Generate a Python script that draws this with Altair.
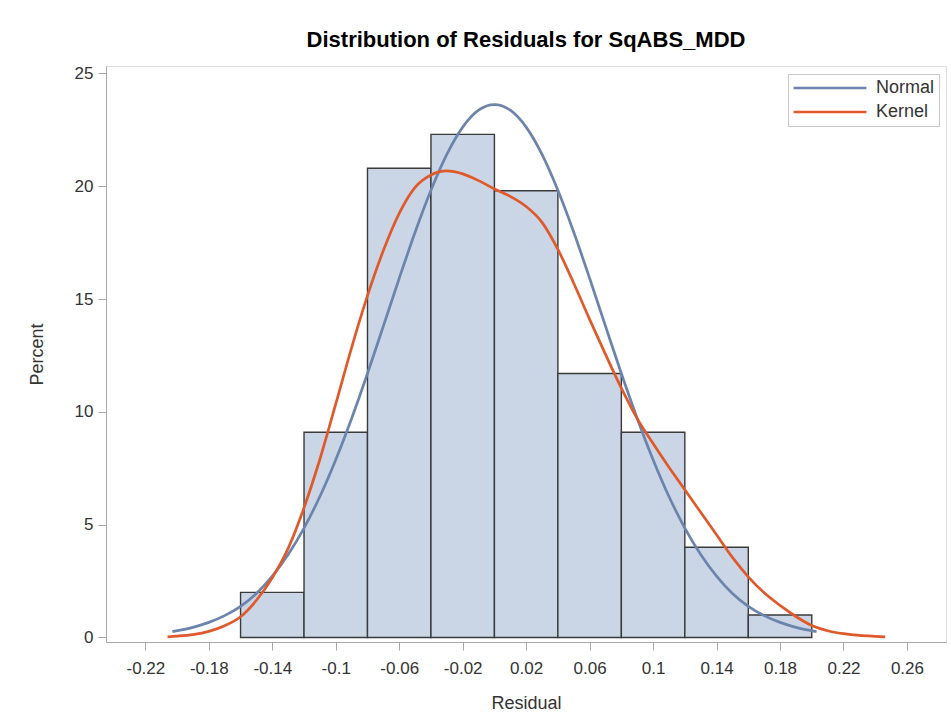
import altair as alt
import pandas as pd

# ---- data ----
bin_start = [-0.16, -0.12, -0.08, -0.04, 0.00, 0.04, 0.08, 0.12, 0.16]
bin_end = [-0.12, -0.08, -0.04, 0.00, 0.04, 0.08, 0.12, 0.16, 0.20]
percent = [2.0, 9.1, 20.8, 22.3, 19.8, 11.7, 9.1, 4.0, 1.0]

normal_x = [-0.203, -0.19, -0.18, -0.17, -0.16, -0.15, -0.14, -0.13, -0.12, -0.11,
            -0.10, -0.09, -0.08, -0.07, -0.06, -0.05, -0.04, -0.03, -0.02, -0.01,
            0.00, 0.01, 0.02, 0.03, 0.04, 0.05, 0.06, 0.07, 0.08, 0.09,
            0.10, 0.11, 0.12, 0.13, 0.14, 0.15, 0.16, 0.17, 0.18, 0.19, 0.203]
normal_y = [0.26, 0.45, 0.67, 0.97, 1.38, 1.95, 2.72, 3.68, 4.85, 6.25,
            7.88, 9.71, 11.70, 13.80, 15.92, 17.96, 19.82, 21.41, 22.62, 23.37,
            23.62, 23.37, 22.62, 21.41, 19.82, 17.96, 15.92, 13.80, 11.70, 9.71,
            7.88, 6.25, 4.85, 3.68, 2.72, 1.95, 1.38, 0.97, 0.67, 0.45, 0.26]

kernel_x = [-0.206, -0.20, -0.19, -0.18, -0.17, -0.16, -0.15, -0.14, -0.13, -0.12,
            -0.11, -0.10, -0.09, -0.08, -0.07, -0.06, -0.05, -0.04, -0.03, -0.02,
            -0.01, 0.00, 0.01, 0.02, 0.03, 0.04, 0.05, 0.06, 0.07, 0.08,
            0.09, 0.10, 0.11, 0.12, 0.13, 0.14, 0.15, 0.16, 0.17, 0.18,
            0.19, 0.20, 0.21, 0.22, 0.23, 0.24, 0.2463]
kernel_y = [0.03, 0.06, 0.13, 0.27, 0.52, 0.92, 1.65, 2.65, 3.95, 5.75,
            7.90, 10.35, 12.85, 15.15, 17.15, 18.80, 19.95, 20.50, 20.68, 20.55,
            20.25, 19.88, 19.55, 19.10, 18.40, 17.20, 15.70, 14.10, 12.55, 11.05,
            9.70, 8.60, 7.55, 6.55, 5.55, 4.55, 3.55, 2.69, 1.98, 1.42,
            0.93, 0.53, 0.30, 0.17, 0.09, 0.05, 0.03]

x_ticks = [-0.22, -0.18, -0.14, -0.1, -0.06, -0.02, 0.02, 0.06, 0.1, 0.14, 0.18, 0.22, 0.26]
y_ticks = [0, 5, 10, 15, 20, 25]
series_names = ["Normal", "Kernel"]
series_colors = ["#6B84AC", "#E0592A"]

bars = pd.DataFrame({"start": bin_start, "end": bin_end, "pct": percent,
                     "base": [0] * len(percent)})
curves = pd.DataFrame({
    "x": normal_x + kernel_x,
    "y": normal_y + kernel_y,
    "series": [series_names[0]] * len(normal_x) + [series_names[1]] * len(kernel_x),
    "order": list(range(len(normal_x))) + list(range(len(kernel_x))),
})

FONT = "Liberation Sans"
xscale = alt.Scale(domain=[-0.2448, 0.2846], nice=False, zero=False)
yscale = alt.Scale(domain=[-0.2, 25.33], nice=False, zero=False)

xaxis = alt.Axis(
    values=x_ticks,
    labelExpr="datum.value < 0 ? '-' + format(abs(datum.value), '~g') : format(datum.value, '~g')",
    grid=False, tickSize=8, labelPadding=10, labelFontSize=17, labelFont=FONT,
    labelColor="#333333", titleFontSize=18, titleFont=FONT, titleFontWeight="normal",
    titleColor="#333333", titleBaseline="alphabetic", titleY=66,
    domainColor="#A8A8A8", tickColor="#A8A8A8",
)
yaxis = alt.Axis(
    values=y_ticks, grid=False, tickSize=8, labelPadding=5, labelFontSize=17,
    labelFont=FONT, labelColor="#333333", titleFontSize=18, titleFont=FONT,
    titleFontWeight="normal", titleColor="#333333", titleBaseline="alphabetic",
    titleX=-64, titleY=288, titleAngle=-90, titleAlign="center",
    domainColor="#A8A8A8", tickColor="#A8A8A8",
)

hist = alt.Chart(bars).mark_rect(
    fill="#CAD5E6", stroke="#3A3A3A", strokeWidth=1.4
).encode(
    x=alt.X("start:Q", scale=xscale, axis=xaxis, title="Residual"),
    x2="end:Q",
    y=alt.Y("pct:Q", scale=yscale, axis=yaxis, title="Percent"),
    y2="base:Q",
)

lines = alt.Chart(curves).mark_line(strokeWidth=2.7, interpolate="monotone").encode(
    x=alt.X("x:Q", scale=xscale),
    y=alt.Y("y:Q", scale=yscale),
    color=alt.Color(
        "series:N",
        scale=alt.Scale(domain=series_names, range=series_colors),
        legend=alt.Legend(
            title=None, orient="none", legendX=682, legendY=8,
            symbolType="stroke", symbolSize=5300, symbolStrokeWidth=2.7,
            clipHeight=20, rowPadding=4, padding=4, labelOffset=8,
            labelFontSize=18, labelFont=FONT, labelColor="#333333",
            strokeColor="#C8C8C8", fillColor="white",
        ),
    ),
    order="order:Q",
)

chart = alt.layer(hist, lines).properties(
    width=840, height=576,
    title=alt.TitleParams(
        "Distribution of Residuals for SqABS_MDD", font=FONT, fontSize=22,
        fontWeight="bold", color="#000000", anchor="middle", offset=12,
    ),
    autosize=alt.AutoSizeParams(type="none"),
    padding={"left": 106, "top": 66, "right": 5, "bottom": 80},
).configure_view(stroke="#B8B8B8", strokeWidth=1).configure(background="white")

chart.save("out.html", embed_options={"renderer": "svg", "actions": False})
